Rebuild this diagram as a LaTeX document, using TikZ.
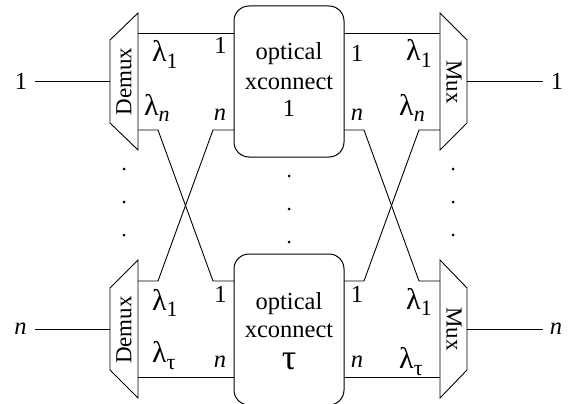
\documentclass[tikz,border=0pt]{standalone}
\usepackage{fontspec}
\setmainfont{Liberation Serif}
\newcommand{\fs}[1]{\fontsize{#1}{#1}\selectfont}
\newcommand{\lam}[1]{\fs{30}λ\raisebox{-6.5pt}{\fs{22}#1}}
\tikzset{
  wire/.style={draw=black,line width=0.9pt,line join=miter},
  xbox/.style={draw=black,line width=1pt,rounded corners=15pt,minimum width=110pt,minimum height=151pt,inner sep=0pt},
  lbl/.style={inner sep=0pt,text=black,font=\fs{24.5}},
  dev/.style={inner sep=0pt,text=black,font=\fs{23}},
  wl/.style={inner sep=0pt,text=black,anchor=base west},
  big/.style={inner sep=0pt,text=black,font=\fs{24.5},anchor=base},
  dotn/.style={circle,fill=black,inner sep=0pt,minimum size=3pt},
}
\begin{document}
\begin{tikzpicture}[x=1pt,y=-1pt]
\useasboundingbox (0,0) rectangle (568,404);
% cross connect boxes
\node[xbox] (x1) at (289,81.5) {};
\node[xbox] (x2) at (289,329.5) {};
\node[big] (t1a) at (289,60) {optical};
\node[big] (t1b) at (289,89) {xconnect};
\node[big] (t1c) at (289,117) {1};
\node[big] (t2a) at (289,309) {optical};
\node[big] (t2b) at (289,337) {xconnect};
\node[big,font=\fs{36}] (t2c) at (289,369) {τ};
% demux and mux trapezia
\draw[wire] (110,40) -- (138,13) -- (138,150) -- (110,123) -- cycle;
\draw[wire] (110,288) -- (138,260) -- (138,398) -- (110,370) -- cycle;
\draw[wire] (467,40) -- (440,13) -- (440,150) -- (467,123) -- cycle;
\draw[wire] (467,288) -- (440,260) -- (440,398) -- (467,370) -- cycle;
\coordinate (d1in) at (110,81.5); \coordinate (d2in) at (110,329.5);
\coordinate (m1out) at (467,81.5); \coordinate (m2out) at (467,329.5);
\coordinate (d1t) at (138,33.5); \coordinate (d1n) at (138,130);
\coordinate (d2t) at (138,281); \coordinate (d2n) at (138,377);
\coordinate (m1t) at (440,33.5); \coordinate (m1n) at (440,130);
\coordinate (m2t) at (440,281); \coordinate (m2n) at (440,377);
\coordinate (x1lt) at (234,33.5); \coordinate (x1ln) at (234,130);
\coordinate (x2lt) at (234,281); \coordinate (x2ln) at (234,377);
\coordinate (x1rt) at (344,33.5); \coordinate (x1rn) at (344,130);
\coordinate (x2rt) at (344,281); \coordinate (x2rn) at (344,377);
% port labels outside
\node[lbl] (in1) at (21,81) {1};
\node[lbl] (inn) at (20.5,329) {\itshape n};
\node[lbl] (out1) at (557,81) {1};
\node[lbl] (outn) at (556,329) {\itshape n};
\coordinate (s1) at (35,81.5); \coordinate (s2) at (35,329.5);
\coordinate (e1) at (543,81.5); \coordinate (e2) at (543,329.5);
\draw[wire] (s1) -- (d1in);
\draw[wire] (s2) -- (d2in);
\draw[wire] (m1out) -- (e1);
\draw[wire] (m2out) -- (e2);
% straight connectors
\draw[wire] (d1t) -- (x1lt);
\draw[wire] (x1rt) -- (m1t);
\draw[wire] (d2n) -- (x2ln);
\draw[wire] (x2rn) -- (m2n);
% crossing connectors
\draw[wire] (d1n) -- (158,130) -- (213,281) -- (x2lt);
\draw[wire] (d2t) -- (158,281) -- (213,130) -- (x1ln);
\draw[wire] (x1rn) -- (364,130) -- (419,281) -- (m2t);
\draw[wire] (x2rt) -- (364,281) -- (419,130) -- (m1n);
% device labels
\node[dev,rotate=90] (dl1) at (124,81.5) {Demux};
\node[dev,rotate=90] (dl2) at (124,330) {Demux};
\node[dev,rotate=-90] (ml1) at (454,82) {Mux};
\node[dev,rotate=-90] (ml2) at (454,329) {Mux};
% wavelength labels
\node[wl] (a1) at (152,62) {\lam{1}};
\node[wl] (a2) at (144,115) {\lam{\itshape n}};
\node[wl] (a3) at (152,310) {\lam{1}};
\node[wl] (a4) at (152,362.5) {\lam{τ}};
\node[wl] (b1) at (406,61) {\lam{1}};
\node[wl] (b2) at (399,115) {\lam{\itshape n}};
\node[wl] (b3) at (406,309) {\lam{1}};
\node[wl] (b4) at (399,368.5) {\lam{τ}};
% box port numbers
\node[lbl] (p1) at (220.5,45.5) {1};
\node[lbl] (p2) at (220,115) {\itshape n};
\node[lbl] (p3) at (220.5,294) {1};
\node[lbl] (p4) at (220,362) {\itshape n};
\node[lbl] (q1) at (357,53) {1};
\node[lbl] (q2) at (357,115) {\itshape n};
\node[lbl] (q3) at (357,294) {1};
\node[lbl] (q4) at (357,362) {\itshape n};
% ellipsis dots
\foreach \n/\px/\py in {a/124/169,b/124/202,c/124/235,d/289/176,e/289/209,f/289/242,g/453/169,h/453/202,i/453/235}
  \node[dotn] (dot\n) at (\px,\py) {};
\end{tikzpicture}
\end{document}
